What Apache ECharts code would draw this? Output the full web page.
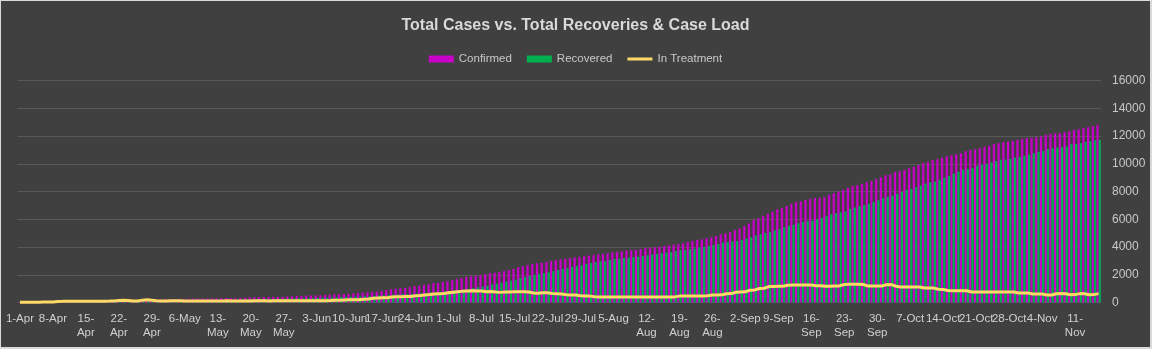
<!DOCTYPE html>
<html>
<head>
<meta charset="utf-8">
<script src="https://cdn.jsdelivr.net/npm/echarts@6/dist/echarts.min.js"></script>
<style>
html,body{margin:0;padding:0;background:#d9d9d9;width:1152px;height:349px;overflow:hidden;}
#chart{position:absolute;left:1px;top:1px;width:1149px;height:346px;background:#404040;}
</style>
</head>
<body>
<div id="chart"></div>
<script>
// ---- data ----
const monthNames = ['Apr','May','Jun','Jul','Aug','Sep','Oct','Nov'];
const monthDays = [30,31,30,31,31,30,31,16];
const categories = [];
monthNames.forEach((m, k) => { for (let d = 1; d <= monthDays[k]; d++) categories.push(d + '-' + m); });

const tickLabels = ['1-Apr','8-Apr','15-\nApr','22-\nApr','29-\nApr','6-May','13-\nMay','20-\nMay','27-\nMay',
  '3-Jun','10-Jun','17-Jun','24-Jun','1-Jul','8-Jul','15-Jul','22-Jul','29-Jul','5-Aug',
  '12-\nAug','19-\nAug','26-\nAug','2-Sep','9-Sep','16-\nSep','23-\nSep','30-\nSep',
  '7-Oct','14-Oct','21-Oct','28-Oct','4-Nov','11-\nNov'];

const yTicks = [0,2000,4000,6000,8000,10000,12000,14000,16000];

const confirmed = [
10,12,15,18,20,25,30,35,
45,55,60,65,70,75,80,
85,90,95,100,110,
170,175,180,180,185,185,190,195,200,
225,230,235,240,245,250,255,
275,280,285,290,295,300,
310,315,320,325,330,335,345,
375,385,390,395,400,405,410,420,440,
448,465,480,495,505,515,530,545,560,585,
605,615,625,660,690,710,735,758,785,830,
900,960,990,1040,1060,1120,1180,1200,1260,1310,
1400,1420,1480,1550,1620,1700,1770,1840,1900,1930,
1986,2050,2120,2150,2200,2270,2340,2420,2550,2610,
2700,2780,2840,2870,2930,3000,3069,3117,
3150,3213,3261,3290,3334,3390,3420,3478,3502,3550,
3622,3646,3694,3742,3780,3800,3863,3920,3945,3983,
4031,4079,4128,4176,4224,4272,4368,4440,4512,4561,
4633,4705,4801,4921,4994,5090,5234,5354,5523,5715,
5956,6076,6245,6390,6534,6727,6823,6967,7112,7256,
7304,7400,7473,7530,7550,7593,7762,7884,
8000,8123,8267,8411,8460,8556,8676,8772,8893,9037,
9182,9254,9422,9470,9567,9687,9783,9904,10048,10144,
10265,10337,10433,10553,10626,10698,10770,10915,11011,11059,
11131,11227,11299,11420,11492,11564,11610,11650,11732,11805,
11853,11877,11925,11973,12094,12166,12200,12225,12286,12358,
12455,12503,12575,12647,12719,12816
];

const recovered = [
0,0,0,0,0,0,0,2,3,4,5,
6,8,10,12,15,18,20,25,30,
40,45,50,55,60,65,70,75,80,
85,90,95,100,105,110,115,
120,125,130,140,150,160,
170,180,190,200,210,220,230,
235,240,245,250,255,260,270,280,290,
300,300,305,310,320,325,340,350,360,380,
390,400,410,420,440,450,460,480,500,520,
530,560,580,600,610,620,640,660,700,720,
740,760,790,830,870,900,940,980,1040,1100,
1150,1210,1300,1360,1420,1510,1580,1650,1760,1840,
1910,1990,2060,2130,2180,2260,2347,
2419,2491,2563,2635,2683,2780,2852,2924,2972,2996,
3069,3141,3160,3213,3230,3285,3300,3357,3406,3454,
3502,3550,3598,3646,3718,3770,3790,3838,3887,3959,
4007,4079,4152,4224,4320,4368,4416,4440,4512,4609,
4705,4849,4921,5018,5090,5210,5282,5427,5523,5595,
5715,5812,5870,5884,6004,6101,6221,6366,
6440,6512,6584,6751,6845,6945,7018,7112,7256,7379,
7523,7617,7689,7834,7978,8123,8195,8317,8433,8577,
8676,8722,8845,8989,9133,9301,9422,9567,9639,9687,
9855,9928,10000,10096,10193,10289,10300,10361,10457,10505,
10577,10673,10770,10866,10938,11059,11131,11179,11203,11251,
11420,11430,11492,11588,11636,11708,11732
];

const inTreatment = [
20,20,22,25,25,28,30,32,
80,82,85,85,88,90,90,92,95,95,98,100,105,
150,170,140,
110,115,
170,190,160,
120,115,115,118,120,118,115,112,110,112,
115,113,110,112,115,118,115,112,110,112,
115,118,120,118,115,118,120,122,
125,125,125,128,128,130,130,130,135,140,
160,170,180,190,200,205,240,260,300,320,
340,350,400,420,420,430,440,480,500,540,
570,610,630,650,700,740,780,820,835,840,
835,830,780,800,760,730,750,760,770,775,
770,760,680,660,700,710,650,630,
610,560,545,540,480,470,460,410,400,395,
400,395,398,400,395,392,395,400,398,395,
400,402,398,400,405,460,470,470,465,470,
468,480,540,545,550,630,640,740,760,770,
890,910,1010,1030,1150,1160,1170,1175,1250,1260,
1265,1270,1265,1260,1215,1210,1170,1165,1190,1195,
1300,1315,1310,1320,1305,1190,1185,1195,1190,1285,
1290,1170,1120,1115,1120,1125,1115,1050,1045,1040,
950,945,860,855,850,855,850,760,755,760,
758,755,760,758,755,760,750,690,685,680,
615,610,612,545,540,635,640,630,565,570,
640,635,565,570,640
];

// ---- chart ----
const FONT = "'Liberation Sans',Arial,sans-serif";
const chart = echarts.init(document.getElementById('chart'), null, {renderer: 'canvas'});
chart.setOption({
  backgroundColor: '#404040',
  animation: false,
  textStyle: {fontFamily: FONT},
  title: {
    text: 'Total Cases vs. Total Recoveries & Case Load',
    left: 'center', top: 12,
    textStyle: {color: '#d9d9d9', fontSize: 16, fontWeight: 'bold', fontFamily: FONT}
  },
  legend: {
    top: 47, left: 'center',
    itemWidth: 25, itemHeight: 7, itemGap: 15,
    textStyle: {color: '#c8c8c8', fontSize: 11.5, fontFamily: FONT},
    data: [
      {name: 'Confirmed', icon: 'rect'},
      {name: 'Recovered', icon: 'rect'},
      {name: 'In Treatment', icon: 'path://M0,0L0.01,0M0,2L25,2L25,5L0,5ZM0,7L0.01,7'}
    ]
  },
  grid: {left: 16.6, right: 49, top: 79.6, bottom: 44.5, containLabel: false},
  xAxis: {
    type: 'category',
    data: categories,
    boundaryGap: true,
    axisLine: {show: false},
    axisTick: {show: false},
    axisLabel: {
      color: '#d0d0d0', fontSize: 11.5, lineHeight: 14, margin: 9, fontFamily: FONT,
      interval: (idx) => idx % 7 === 0,
      formatter: (val, idx) => tickLabels[idx / 7] || ''
    },
    splitLine: {show: false}
  },
  yAxis: {
    type: 'value',
    position: 'right',
    min: yTicks[0], max: yTicks[yTicks.length - 1], interval: yTicks[1] - yTicks[0],
    axisLine: {show: false},
    axisTick: {show: false},
    axisLabel: {color: '#c8c8c8', fontSize: 12, margin: 11, fontFamily: FONT,
      formatter: (v) => String(v)},
    splitLine: {lineStyle: {color: '#595959', width: 1}}
  },
  series: [
    {name: 'Confirmed', type: 'bar', data: confirmed, itemStyle: {color: '#C800C8'},
     barGap: '0%', barCategoryGap: '6%'},
    {name: 'Recovered', type: 'bar', data: recovered, itemStyle: {color: '#00B050'},
     barGap: '0%', barCategoryGap: '6%'},
    {name: 'In Treatment', type: 'line', data: inTreatment, symbol: 'none', showSymbol: false,
     lineStyle: {color: '#FFD966', width: 3}, itemStyle: {color: '#FFD966'}, z: 5}
  ]
});
</script>
</body>
</html>
